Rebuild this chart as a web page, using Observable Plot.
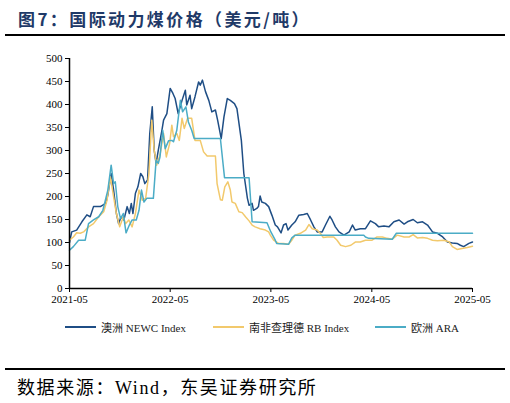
<!DOCTYPE html>
<html>
<head>
<meta charset="utf-8">
<script src="https://cdn.jsdelivr.net/npm/d3@7"></script>
<script src="https://cdn.jsdelivr.net/npm/@observablehq/plot@0.6"></script>
<style>
  html, body { margin: 0; padding: 0; background: #fff; width: 510px; height: 403px; overflow: hidden; }
  #wrap { position: relative; width: 510px; height: 403px; }
  #title { position: absolute; left: 18px; top: 6px; font-family: "Noto Sans CJK SC", sans-serif; font-weight: 700; font-size: 17px; color: #1f3a68; letter-spacing: 2.4px; white-space: nowrap; }
  .hr { position: absolute; left: 5px; width: 500px; height: 2px; background: #000; }
  #chart { position: absolute; left: 0; top: 40px; }
  #legend { position: absolute; top: 319px; left: 0; width: 510px; height: 16px; font-family: "Liberation Serif", "Noto Sans CJK SC", serif; font-size: 11px; color: #222; }
  .item { position: absolute; top: 0; display: flex; align-items: center; white-space: nowrap; }
  .sw { display: inline-block; width: 31px; height: 2px; margin-right: 5px; }
  #source { position: absolute; left: 17px; top: 373px; font-family: "Liberation Serif", "Noto Sans CJK SC", serif; font-size: 18px; color: #000; white-space: nowrap; letter-spacing: 1.6px; }
</style>
</head>
<body>
<div id="wrap">
  <div id="title">图7：国际动力煤价格（美元/吨）</div>
  <div class="hr" style="top:34px"></div>
  <div id="chart"></div>
  <div id="legend"></div>
  <div class="hr" style="top:368px"></div>
  <div id="source">数据来源：Wind，东吴证券研究所</div>
</div>
<script>
const seriesNames = ["澳洲 NEWC Index", "南非查理德 RB Index", "欧洲 ARA"];
const seriesColors = ["#1f4e85", "#f2c96c", "#4bacc6"];
const yTicks = [0, 50, 100, 150, 200, 250, 300, 350, 400, 450, 500];
const xTickLabels = ["2021-05", "2022-05", "2023-05", "2024-05", "2025-05"];

const newc = [
["2021-05-01",100],["2021-05-09",123],["2021-05-27",127],["2021-06-15",145],["2021-07-03",160],["2021-07-15",156],
["2021-07-27",178],["2021-08-21",178],["2021-09-09",185],["2021-09-17",203],["2021-09-29",250],["2021-10-08",214],
["2021-10-18",163],["2021-10-26",141],["2021-11-04",156],["2021-11-14",149],["2021-11-26",178],["2021-12-04",163],
["2021-12-11",185],["2021-12-17",163],["2021-12-26",207],["2022-01-04",221],["2022-01-14",250],["2022-01-22",243],
["2022-01-29",228],["2022-02-08",236],["2022-02-16",337],["2022-02-25",395],["2022-03-04",301],["2022-03-11",272],
["2022-03-19",301],["2022-04-01",344],["2022-04-07",366],["2022-04-19",380],["2022-05-01",435],["2022-05-11",424],
["2022-05-19",413],["2022-05-30",380],["2022-06-13",409],["2022-06-25",431],["2022-06-30",399],["2022-07-12",420],
["2022-07-18",391],["2022-07-30",417],["2022-08-12",449],["2022-08-18",442],["2022-08-26",453],["2022-09-06",428],
["2022-09-18",409],["2022-09-29",384],["2022-10-12",388],["2022-10-20",366],["2022-11-02",326],["2022-11-12",373],
["2022-11-24",413],["2022-12-05",409],["2022-12-20",402],["2022-12-29",391],["2023-01-14",322],["2023-01-23",250],
["2023-02-05",196],["2023-02-11",181],["2023-02-22",185],["2023-02-27",170],["2023-03-11",174],["2023-03-17",178],
["2023-03-23",201],["2023-03-29",188],["2023-04-11",185],["2023-04-23",178],["2023-05-05",159],["2023-05-17",138],
["2023-05-25",134],["2023-06-07",121],["2023-06-16",138],["2023-06-25",141],["2023-07-02",127],["2023-07-16",138],
["2023-07-28",145],["2023-08-10",159],["2023-08-28",161],["2023-09-10",163],["2023-09-22",149],["2023-10-04",134],
["2023-10-16",123],["2023-11-03",123],["2023-11-15",138],["2023-12-01",157],["2023-12-09",149],["2023-12-21",134],
["2024-01-03",123],["2024-01-21",116],["2024-02-09",123],["2024-02-21",138],["2024-03-02",127],["2024-03-20",130],
["2024-04-08",130],["2024-04-26",147],["2024-05-14",141],["2024-05-26",134],["2024-06-14",136],["2024-07-02",134],
["2024-07-20",145],["2024-08-08",149],["2024-08-26",140],["2024-09-07",145],["2024-09-28",150],["2024-10-13",143],
["2024-11-01",145],["2024-11-19",138],["2024-12-07",123],["2024-12-25",120],["2025-01-13",112],["2025-01-30",101],
["2025-02-17",99],["2025-03-06",98],["2025-03-18",94],["2025-03-30",91],["2025-04-18",98],["2025-05-01",101]
];

const rb = [
["2021-05-01",105],["2021-05-15",112],["2021-05-27",121],["2021-06-09",120],["2021-06-21",123],["2021-07-09",134],
["2021-07-27",141],["2021-08-15",156],["2021-09-02",167],["2021-09-14",192],["2021-09-26",243],["2021-10-08",199],
["2021-10-18",163],["2021-10-30",134],["2021-11-12",156],["2021-11-20",141],["2021-12-02",149],["2021-12-14",134],
["2021-12-26",163],["2022-01-08",214],["2022-01-20",192],["2022-02-01",196],["2022-02-13",250],["2022-02-23",366],
["2022-03-04",301],["2022-03-13",268],["2022-03-25",290],["2022-04-07",337],["2022-04-17",286],["2022-04-29",315],
["2022-05-07",355],["2022-05-13",330],["2022-05-25",337],["2022-06-03",322],["2022-06-13",370],["2022-06-21",348],
["2022-07-03",370],["2022-07-18",370],["2022-07-30",322],["2022-08-18",322],["2022-08-30",297],["2022-09-12",288],
["2022-10-12",288],["2022-10-18",228],["2022-10-30",193],["2022-11-06",192],["2022-11-15",221],["2022-11-26",232],
["2022-12-05",214],["2022-12-11",188],["2022-12-23",185],["2023-01-05",167],["2023-01-17",165],["2023-01-29",156],
["2023-02-11",147],["2023-02-22",138],["2023-03-05",134],["2023-03-23",130],["2023-04-11",127],["2023-04-23",123],
["2023-04-29",116],["2023-05-11",105],["2023-05-29",98],["2023-06-16",98],["2023-07-04",96],["2023-07-16",105],
["2023-07-28",116],["2023-08-16",120],["2023-09-04",127],["2023-09-16",139],["2023-09-28",130],["2023-10-16",127],
["2023-10-27",120],["2023-11-07",111],["2023-11-21",112],["2023-12-15",112],["2023-12-27",105],["2024-01-09",94],
["2024-01-27",91],["2024-02-15",94],["2024-03-02",101],["2024-03-20",101],["2024-04-08",105],["2024-05-02",105],
["2024-05-20",112],["2024-06-08",112],["2024-06-26",109],["2024-07-14",107],["2024-08-01",116],["2024-08-26",112],
["2024-09-13",112],["2024-09-28",117],["2024-10-13",110],["2024-11-01",111],["2024-11-19",109],["2024-12-07",105],
["2024-12-25",104],["2025-01-18",105],["2025-02-06",101],["2025-02-17",91],["2025-03-06",85],["2025-03-24",87],
["2025-04-12",89],["2025-05-01",92]
];

const ara = [
["2021-05-01",83],["2021-05-15",91],["2021-06-03",105],["2021-06-27",105],["2021-07-09",141],["2021-07-27",149],
["2021-08-15",156],["2021-08-30",170],["2021-09-17",214],["2021-09-29",268],["2021-10-08",228],["2021-10-14",232],
["2021-10-23",178],["2021-11-02",152],["2021-11-12",163],["2021-11-22",121],["2021-12-04",138],["2021-12-14",149],
["2021-12-29",149],["2022-01-08",170],["2022-01-17",214],["2022-01-26",188],["2022-02-05",196],["2022-03-01",196],
["2022-03-11",279],["2022-03-19",272],["2022-03-25",286],["2022-04-04",344],["2022-04-13",304],["2022-04-25",321],
["2022-05-07",322],["2022-05-13",319],["2022-05-25",344],["2022-06-07",409],["2022-06-15",384],["2022-06-27",395],
["2022-07-06",362],["2022-07-18",344],["2022-07-27",326],["2022-10-30",326],["2022-11-14",241],["2023-02-11",241],
["2023-02-22",145],["2023-04-17",143],["2023-05-01",123],["2023-05-17",105],["2023-05-22",98],["2023-07-04",96],
["2023-07-16",110],["2023-07-28",116],["2024-04-02",116],["2024-04-08",112],["2024-04-20",109],["2024-07-14",107],
["2024-07-29",120],["2025-05-01",120]
];

const allSeries = [newc, rb, ara];
const data = allSeries.flatMap((s, i) => s.map(([d, v]) => ({date: new Date(d + "T00:00:00Z"), value: v, series: seriesNames[i]})));
const xTicks = xTickLabels.map(s => new Date(s + "-01T00:00:00Z"));

const chart = Plot.plot({
  width: 510,
  height: 268,
  marginLeft: 69,
  marginRight: 38,
  marginTop: 18,
  marginBottom: 20,
  style: {fontFamily: "'Liberation Serif', serif", fontSize: "11px", color: "#000", background: "transparent"},
  x: {type: "utc", domain: [xTicks[0], xTicks[xTicks.length - 1]]},
  y: {domain: [0, 500]},
  color: {domain: seriesNames, range: seriesColors},
  marks: [
    Plot.axisY({ticks: yTicks, tickSize: 4, tickPadding: 3, label: null, fontSize: 11}),
    Plot.axisX({ticks: xTicks, tickSize: 4, tickPadding: 3, label: null, tickFormat: d3.utcFormat("%Y-%m"), fontSize: 11}),
    Plot.line(data, {x: "date", y: "value", z: "series", stroke: "series", strokeWidth: 1.5, curve: "linear"}),
    Plot.ruleY([0], {stroke: "#000", strokeWidth: 1.5}),
    Plot.ruleX([xTicks[0]], {stroke: "#000", strokeWidth: 1.5})
  ]
});
document.getElementById("chart").appendChild(chart);

const legend = document.getElementById("legend");
const legendLeft = [65, 213, 375];
seriesNames.forEach((n, i) => {
  const it = document.createElement("div");
  it.className = "item";
  it.style.left = legendLeft[i] + "px";
  it.innerHTML = `<span class="sw" style="background:${seriesColors[i]}"></span><span>${n}</span>`;
  legend.appendChild(it);
});
</script>
</body>
</html>
